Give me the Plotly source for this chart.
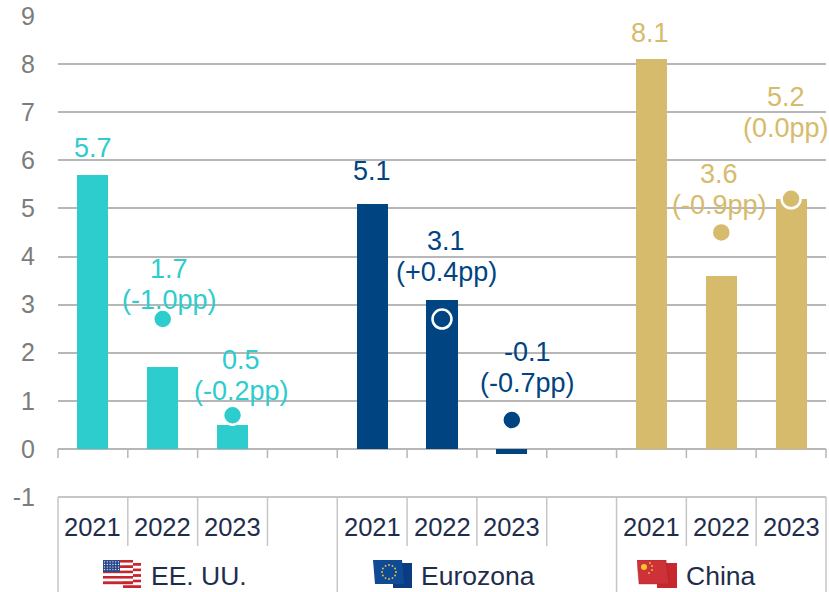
import base64
import math
import plotly.graph_objects as go

# ---------- data ----------
slots = list(range(11))
years = ["2021", "2022", "2023", "", "2021", "2022", "2023", "", "2021", "2022", "2023"]
regions = ["EE. UU.", "Eurozona", "China"]

us_x = [0, 1, 2]
ez_x = [4, 5, 6]
cn_x = [8, 9, 10]
us_growth = [5.7, 1.7, 0.5]
ez_growth = [5.1, 3.1, -0.1]
cn_growth = [8.1, 3.6, 5.2]

us_dot_x = [1, 2]
ez_dot_x = [5, 6]
cn_dot_x = [9, 10]
us_dots = [2.7, 0.7]
ez_dots = [2.7, 0.6]
cn_dots = [4.5, 5.2]

us_delta = [None, "(-1.0pp)", "(-0.2pp)"]
ez_delta = [None, "(+0.4pp)", "(-0.7pp)"]
cn_delta = [None, "(-0.9pp)", "(0.0pp)"]

y_ticks = [-1, 0, 1, 2, 3, 4, 5, 6, 7, 8, 9]

# ---------- style / layout ----------
W, H = 829, 592
L, R, T, B = 58, 3, 16, 95
PITCH = (W - L - R) / 11
TEAL, NAVY, SAND = "#2DCCCD", "#004481", "#D6BB6C"
GRID = "#B7B7B7"
BOX = "#C6C6C6"
DARK = "#1F2D4D"
FONT = "Liberation Sans, Arial, sans-serif"

def px(x):
    return (x - L) / (W - L - R)
def py(y):
    return 1 - (y - T) / (H - T - B)

fig = go.Figure()
groups = [
    (us_x, us_growth, us_dot_x, us_dots, TEAL, "EE. UU."),
    (ez_x, ez_growth, ez_dot_x, ez_dots, NAVY, "Eurozona"),
    (cn_x, cn_growth, cn_dot_x, cn_dots, SAND, "China"),
]
for gx, gv, dx, dv, col, name in groups:
    fig.add_trace(go.Bar(x=gx, y=gv, marker=dict(color=col, line_width=0), width=0.445,
                         name=name, showlegend=False))
for gx, gv, dx, dv, col, name in groups:
    fig.add_trace(go.Scatter(x=dx, y=dv, mode="markers", showlegend=False, name=name,
                             marker=dict(color=col, size=19, line=dict(color="white", width=2.5))))

# data labels: centre px, y px of first line
label_pos = {
    0: (93, 148), 1: (169, 269), 2: (241, 360),
    4: (372, 171), 5: (446, 241), 6: (527, 352),
    8: (650, 33), 9: (719, 174), 10: (786, 97),
}
anns = []
def text(x, y, s, col, size=27, xanchor="center"):
    anns.append(dict(x=px(x), y=py(y), xref="paper", yref="paper", text=s, showarrow=False,
                     xanchor=xanchor, yanchor="middle", font=dict(color=col, size=size, family=FONT),
                     borderpad=0, bgcolor="rgba(0,0,0,0)"))

for gx, gv, delta, col in [(us_x, us_growth, us_delta, TEAL), (ez_x, ez_growth, ez_delta, NAVY),
                           (cn_x, cn_growth, cn_delta, SAND)]:
    for x, v, d in zip(gx, gv, delta):
        cx, cy = label_pos[x]
        text(cx, cy, f"{v}", col)
        if d:
            text(cx, cy + 31, d, col)

def slot_px(i):
    return L + PITCH * (i + 0.5)

for i, y in zip(slots, years):
    if y:
        text(slot_px(i), 527, y, DARK, 25.5)

text(149.5, 576, regions[0], DARK, 26.5, "left")
text(419.5, 576, regions[1], DARK, 26.5, "left")
text(684.5, 576, regions[2], DARK, 26.5, "left")

# axis furniture
shapes = []
def line(x0, y0, x1, y1, col, w=2):
    shapes.append(dict(type="line", xref="paper", yref="paper", x0=px(x0), x1=px(x1), y0=py(y0), y1=py(y1),
                       line=dict(color=col, width=w), layer="above"))
for i in range(12):
    xp = L + PITCH * i
    line(xp, 449, xp, 458, GRID, 1.5)
    major = i in (0, 4, 8, 11)
    line(xp, 497, xp, 592 if major else 546, BOX, 1.5)
line(L, 497, W - R, 497, BOX, 2)

# flags as inline svg
def svg_uri(body):
    s = f'<svg xmlns="http://www.w3.org/2000/svg" width="40" height="28" viewBox="0 0 40 28">{body}</svg>'
    return "data:image/svg+xml;base64," + base64.b64encode(s.encode()).decode()

def stripes(x, y, w, h, n):
    out = ""
    for k in range(n):
        c = "#C8262F" if k % 2 == 0 else "#FFFFFF"
        out += f'<rect x="{x}" y="{y + k * h / n}" width="{w}" height="{h / n + .2}" fill="{c}"/>'
    return out

us = stripes(21, 3, 18, 25, 9) + stripes(1, 0, 30, 24, 9) + '<rect x="1" y="0" width="17" height="12" fill="#2C4A8C"/>'
us += "".join(f'<circle cx="{2.5 + 2.8 * a}" cy="{1.8 + 2.6 * b}" r=".6" fill="#fff"/>' for a in range(6) for b in range(4))
eu = '<rect x="20" y="3" width="19" height="25" fill="#0B3B82"/><path d="M0 0H29L31 24H2Z" fill="#0F4A94"/>'
eu += "".join(f'<circle cx="{16 + 7 * math.cos(a * math.pi / 6):.1f}" cy="{12 + 7 * math.sin(a * math.pi / 6):.1f}" r=".9" fill="#F2C83C"/>' for a in range(12))
cn = '<rect x="20" y="3" width="20" height="25" fill="#C9272E"/><path d="M0 0H29L32 24H2Z" fill="#CC3238" stroke="#9A2328" stroke-width=".4"/>'
cn += '<circle cx="7" cy="7" r="3" fill="#F4C430"/>' + "".join(f'<circle cx="{a}" cy="{b}" r=".9" fill="#F4C430"/>' for a, b in [(13, 3), (15, 6), (15, 10), (12, 13)])

images = []
for xp, body in [(102, us), (373, eu), (637, cn)]:
    images.append(dict(source=svg_uri(body), xref="paper", yref="paper", x=px(xp), y=py(560),
                       sizex=40 / (W - L - R), sizey=28 / (H - T - B), xanchor="left", yanchor="top",
                       sizing="stretch", layer="above"))

fig.update_layout(
    width=W, height=H, margin=dict(l=L, r=R, t=T, b=B, autoexpand=False),
    paper_bgcolor="white", plot_bgcolor="white", bargap=0, barmode="overlay",
    font=dict(family=FONT),
    annotations=anns, shapes=shapes, images=images,
    xaxis=dict(range=[-0.5, 10.5], showticklabels=False, showgrid=False, zeroline=False,
               ticks="", showline=False, fixedrange=True),
    yaxis=dict(range=[-1, 9], tickvals=y_ticks, ticktext=[str(v) for v in y_ticks], showgrid=True,
               gridcolor=GRID, gridwidth=2, zeroline=True, zerolinecolor=GRID, zerolinewidth=2,
               tickfont=dict(size=25, color="#7C7C7C", family=FONT), ticks="", ticklabelstandoff=22,
               showline=False, fixedrange=True),
)
fig.write_html("out.html", config=dict(displayModeBar=False),
               post_script="document.body.style.margin='0';document.documentElement.style.overflow='hidden';")
